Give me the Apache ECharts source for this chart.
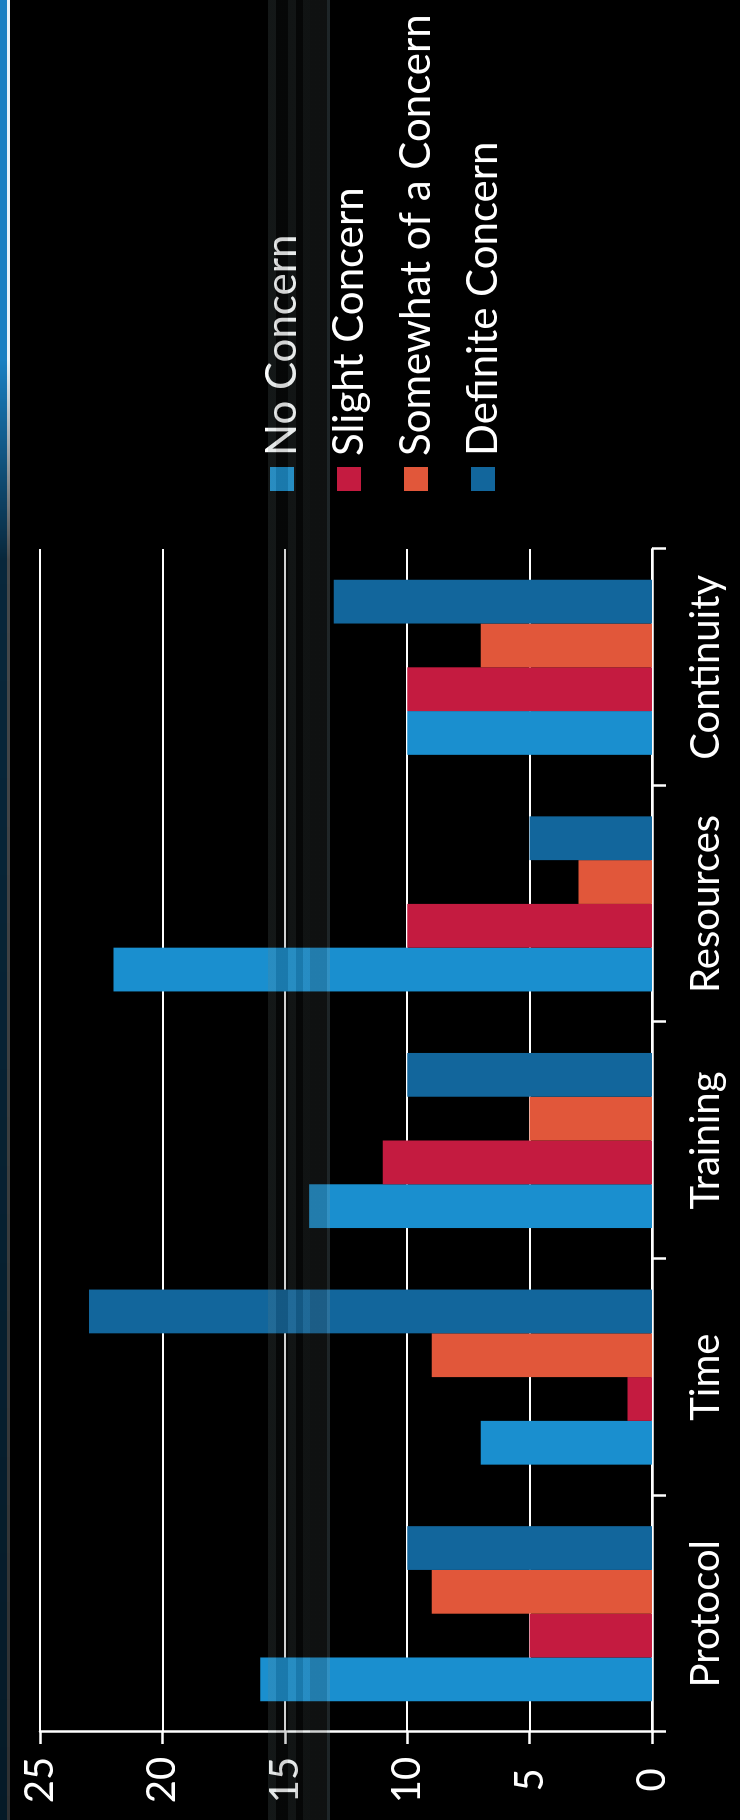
<!DOCTYPE html>
<html>
<head>
<meta charset="utf-8">
<script src="https://cdn.jsdelivr.net/npm/echarts@6/dist/echarts.min.js"></script>
<style>
  html, body { margin: 0; padding: 0; background: #000; }
  body { width: 740px; height: 1820px; overflow: hidden; position: relative; }
  /* slide edge: blue band with a white rule, fading downward */
  #edge {
    position: absolute; left: 0; top: 0; width: 12px; height: 1820px;
    background: linear-gradient(to right, #1a80c2 0, #1a80c2 7px, #e8f2f8 7px, #e8f2f8 10px, transparent 10px);
    -webkit-mask-image: linear-gradient(to bottom, #000 0, #000 360px, rgba(0,0,0,0.3) 560px, rgba(0,0,0,0.2) 1820px);
    mask-image: linear-gradient(to bottom, #000 0, #000 360px, rgba(0,0,0,0.3) 560px, rgba(0,0,0,0.2) 1820px);
  }
  /* the chart is laid out as a column chart and turned a quarter turn counter-clockwise */
  #chart {
    position: absolute; left: 0; top: 0; width: 1820px; height: 740px;
    transform-origin: 0 0;
    transform: translateY(1820px) rotate(-90deg);
  }
  /* faint vertical streaks across the slide */
  #streaks {
    position: absolute; left: 268px; top: 0; width: 66px; height: 1820px; pointer-events: none;
    background: linear-gradient(to right,
      rgba(110,130,130,0.18) 0, rgba(110,130,130,0.18) 8px,
      rgba(30,36,36,0.20) 8px, rgba(30,36,36,0.20) 20px,
      rgba(110,130,130,0.16) 20px, rgba(110,130,130,0.16) 28px,
      rgba(30,36,36,0.20) 28px, rgba(30,36,36,0.20) 35px,
      rgba(110,130,130,0.15) 35px, rgba(110,130,130,0.15) 42px,
      rgba(60,68,68,0.25) 42px, rgba(60,68,68,0.25) 59px,
      rgba(120,150,160,0.25) 59px, rgba(120,150,160,0.25) 62px,
      transparent 62px);
  }
</style>
</head>
<body>
<div id="edge"></div>
<div id="chart"></div>
<div id="streaks"></div>
<script>
const categories = ['Protocol', 'Time', 'Training', 'Resources', 'Continuity'];
const seriesNames = ['No Concern', 'Slight Concern', 'Somewhat of a Concern', 'Definite Concern'];
const noConcern = [16, 7, 14, 22, 10];
const slightConcern = [5, 1, 11, 10, 10];
const somewhatConcern = [9, 9, 5, 3, 7];
const definiteConcern = [10, 23, 10, 5, 13];
const valueTicks = [0, 5, 10, 15, 20, 25];

const colors = ['#1a8fcf', '#c41b40', '#e1573a', '#12669c'];
const FONT = 'Lato, "Open Sans", sans-serif';

const chart = echarts.init(document.getElementById('chart'), null, { renderer: 'canvas' });

const seriesData = [noConcern, slightConcern, somewhatConcern, definiteConcern];

chart.setOption({
  backgroundColor: 'transparent',
  animation: false,
  color: colors,
  textStyle: { fontFamily: FONT },
  grid: { left: 88, right: 549, top: 40, bottom: 88, containLabel: false },
  legend: {
    orient: 'vertical',
    left: 1324,
    top: 256,
    itemWidth: 24,
    itemHeight: 24,
    itemGap: 25,
    icon: 'rect',
    data: seriesNames,
    textStyle: { color: '#ffffff', fontSize: 42, lineHeight: 42, fontFamily: FONT, padding: [0, 0, 0, 6] }
  },
  xAxis: {
    type: 'category',
    data: categories,
    axisLine: { show: true, lineStyle: { color: '#ffffff', width: 2.5 } },
    axisTick: { show: true, alignWithLabel: false, length: 14, lineStyle: { color: '#ffffff', width: 2.5 } },
    axisLabel: { color: '#ffffff', fontSize: 40, fontFamily: FONT, margin: 34, interval: 0 },
    splitLine: { show: false }
  },
  yAxis: {
    type: 'value',
    min: valueTicks[0],
    max: valueTicks[valueTicks.length - 1],
    interval: 5,
    axisLine: { show: true, lineStyle: { color: '#ffffff', width: 2.5 } },
    axisTick: { show: true, length: 12, lineStyle: { color: '#ffffff', width: 2.5 } },
    axisLabel: { color: '#ffffff', fontSize: 40, fontFamily: FONT, margin: 48, align: 'center' },
    splitLine: { show: true, lineStyle: { color: '#ffffff', width: 2 } }
  },
  series: seriesNames.map((name, i) => ({
    name: name,
    type: 'bar',
    data: seriesData[i],
    barGap: '0%',
    barCategoryGap: '26%',
    itemStyle: { color: colors[i] }
  }))
});
</script>
</body>
</html>
